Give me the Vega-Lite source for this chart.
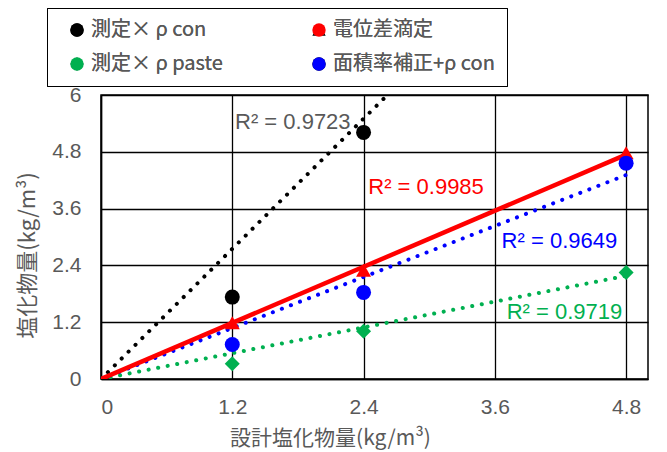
{
  "$schema": "https://vega.github.io/schema/vega-lite/v6.json",
  "width": 547,
  "height": 284,
  "autosize": {"type": "none"},
  "padding": {"left": 101, "top": 95, "right": 19, "bottom": 73},
  "background": "white",
  "config": {
    "view": {"stroke": "black", "strokeWidth": 1.5},
    "font": "Noto Sans CJK JP",
    "axis": {
      "grid": true,
      "gridColor": "black",
      "gridWidth": 1.3,
      "gridOpacity": 1,
      "domainColor": "black",
      "domainWidth": 1.5,
      "ticks": false,
      "labelFont": "Liberation Sans",
      "labelFontSize": 21,
      "labelColor": "#595959",
      "titleFont": "Noto Sans CJK JP",
      "titleFontSize": 21,
      "titleFontWeight": "normal",
      "titleColor": "#595959"
    }
  },
  "datasets": {
    "points": [
      {"series": "測定× ρ con", "x": 1.2, "y": 1.73},
      {"series": "測定× ρ con", "x": 2.4, "y": 5.21},
      {"series": "電位差滴定", "x": 1.2, "y": 1.19},
      {"series": "電位差滴定", "x": 2.4, "y": 2.3},
      {"series": "電位差滴定", "x": 4.8, "y": 4.78},
      {"series": "測定× ρ paste", "x": 1.2, "y": 0.32},
      {"series": "測定× ρ paste", "x": 2.4, "y": 1.01},
      {"series": "測定× ρ paste", "x": 4.8, "y": 2.25},
      {"series": "面積率補正+ρ con", "x": 1.2, "y": 0.73},
      {"series": "面積率補正+ρ con", "x": 2.4, "y": 1.83},
      {"series": "面積率補正+ρ con", "x": 4.8, "y": 4.56}
    ],
    "trends": [
      {"series": "測定× ρ con", "x": 0, "y": 0},
      {"series": "測定× ρ con", "x": 4.8, "y": 11.0},
      {"series": "電位差滴定", "x": 0, "y": 0},
      {"series": "電位差滴定", "x": 4.8, "y": 4.74},
      {"series": "測定× ρ paste", "x": 0, "y": 0},
      {"series": "測定× ρ paste", "x": 4.8, "y": 2.18},
      {"series": "面積率補正+ρ con", "x": 0, "y": 0},
      {"series": "面積率補正+ρ con", "x": 4.8, "y": 4.31}
    ],
    "labels": [
      {"series": "測定× ρ con", "text": "R² = 0.9723", "x": 1.225, "y": 5.43},
      {"series": "電位差滴定", "text": "R² = 0.9985", "x": 2.443, "y": 4.05},
      {"series": "面積率補正+ρ con", "text": "R² = 0.9649", "x": 3.662, "y": 2.915},
      {"series": "測定× ρ paste", "text": "R² = 0.9719", "x": 3.708, "y": 1.42}
    ]
  },
  "encoding": {
    "x": {"field": "x", "type": "quantitative", "scale": {"domain": [0, 5], "nice": false}, "axis": {"values": [0, 1.2, 2.4, 3.6, 4.8], "format": ".2~g", "labelPadding": 17, "title": "設計塩化物量(kg/m³)", "titleX": 229, "titleY": 59, "titleBaseline": "middle"}},
    "y": {"field": "y", "type": "quantitative", "scale": {"domain": [0, 6], "nice": false}, "axis": {"values": [0, 1.2, 2.4, 3.6, 4.8, 6], "format": ".2~g", "labelPadding": 20, "title": "塩化物量(kg/m³)", "titleFontSize": 22, "titleX": -74, "titleY": 160, "titleBaseline": "middle", "titleAlign": "center"}}
  },
  "layer": [
    {
      "data": {"name": "trends"},
      "transform": [{"filter": "datum.series !== '電位差滴定'"}],
      "mark": {"type": "line", "strokeWidth": 4, "strokeDash": [0.1, 9.6], "strokeCap": "round", "clip": true},
      "encoding": {
        "color": {"field": "series", "type": "nominal", "scale": {"domain": ["測定× ρ con", "測定× ρ paste", "面積率補正+ρ con"], "range": ["#000000", "#00B050", "#0000FF"]}, "legend": null}
      }
    },
    {
      "data": {"name": "trends"},
      "transform": [{"filter": "datum.series === '電位差滴定'"}],
      "mark": {"type": "line", "strokeWidth": 4.5, "color": "#FF0000", "clip": true},
      "encoding": {}
    },
    {
      "data": {"name": "points"},
      "mark": {"type": "point", "filled": true, "size": 225, "opacity": 1, "strokeWidth": 0},
      "encoding": {
        "color": {
          "field": "series", "type": "nominal",
          "scale": {"domain": ["測定× ρ con", "電位差滴定", "測定× ρ paste", "面積率補正+ρ con"], "range": ["#000000", "#FF0000", "#00B050", "#0000FF"]},
          "legend": {"orient": "none", "legendX": -54, "legendY": -87, "columns": 2, "direction": "horizontal", "title": " ", "titleOrient": "left", "titlePadding": 8, "titleFontSize": 20, "padding": 12, "strokeColor": "black", "labelFont": "Noto Sans CJK JP", "labelFontSize": 20, "labelColor": "#595959", "labelLimit": 400, "symbolSize": 180, "symbolStrokeWidth": 0, "labelOffset": 4, "rowPadding": 14, "columnPadding": 86}
        },
        "shape": {
          "field": "series", "type": "nominal",
          "scale": {"domain": ["測定× ρ con", "電位差滴定", "測定× ρ paste", "面積率補正+ρ con"], "range": ["circle", "triangle-up", "diamond", "circle"]},
          "legend": {"orient": "none", "legendX": -54, "legendY": -87, "columns": 2, "direction": "horizontal", "title": " ", "titleOrient": "left", "titlePadding": 8, "titleFontSize": 20, "padding": 12, "strokeColor": "black", "labelFont": "Noto Sans CJK JP", "labelFontSize": 20, "labelColor": "#595959", "labelLimit": 400, "symbolSize": 180, "symbolStrokeWidth": 0, "labelOffset": 4, "rowPadding": 14, "columnPadding": 86}
        }
      }
    },
    {
      "data": {"name": "labels"},
      "mark": {"type": "text", "align": "left", "baseline": "middle", "font": "Liberation Sans", "fontSize": 22},
      "encoding": {
        "text": {"field": "text"},
        "color": {"field": "series", "type": "nominal", "scale": {"domain": ["測定× ρ con", "電位差滴定", "測定× ρ paste", "面積率補正+ρ con"], "range": ["#595959", "#FF0000", "#00B050", "#0000FF"]}, "legend": null}
      }
    }
  ],
  "resolve": {"scale": {"color": "independent"}}
}
